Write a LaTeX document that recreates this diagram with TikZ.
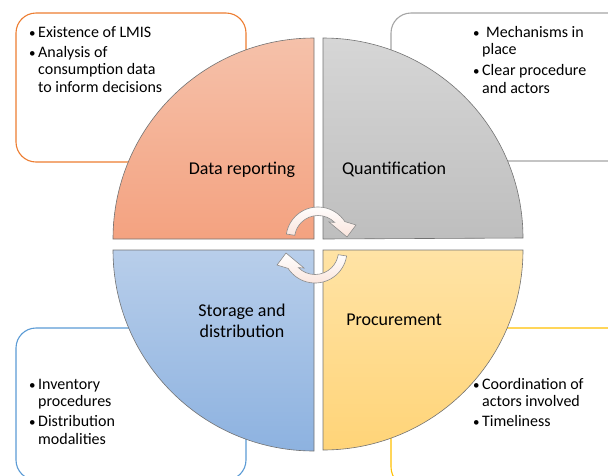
\documentclass[tikz,border=0pt]{standalone}
\usepackage{fontspec}
\setmainfont{Carlito}
\definecolor{boxorange}{RGB}{237,125,49}
\definecolor{boxgray}{RGB}{165,165,165}
\definecolor{boxblue}{RGB}{91,155,213}
\definecolor{boxgold}{RGB}{255,192,0}
\definecolor{drtop}{RGB}{245,193,170}
\definecolor{drbot}{RGB}{244,162,128}
\definecolor{qutop}{RGB}{214,214,214}
\definecolor{qubot}{RGB}{190,190,190}
\definecolor{sdtop}{RGB}{184,206,234}
\definecolor{sdbot}{RGB}{141,178,224}
\definecolor{prtop}{RGB}{255,227,165}
\definecolor{prbot}{RGB}{255,212,120}
\definecolor{arrowpink}{RGB}{250,228,220}
% small list bullet in a fixed-width box
\newcommand\listdot[1]{\makebox[#1][l]{\hspace{1pt}\fontsize{13}{13}\selectfont •}}
\begin{document}
\begin{tikzpicture}[x=1pt,y=-1pt,
  quad/.style={draw=black!55, line width=0.6pt},
  infobox/.style={rounded corners=20pt, line width=1.1pt, fill=white},
  qlabel/.style={font=\fontsize{18}{21}\selectfont, align=center, inner sep=0pt},
  bullets/.style={font=\fontsize{16}{17.5}\selectfont, anchor=base west, inner sep=0pt},
  cyc/.style={draw=black!45, line width=0.6pt, top color=white, bottom color=arrowpink},
  cyclearrow/.pic={
    \draw[cyc] (189:32) arc[start angle=189, end angle=327, radius=32]
      -- (38,-14) -- (29,-2) -- (11,-17) -- (315:23.5)
      arc[start angle=315, end angle=189, radius=23.5] -- cycle;
  }]
\useasboundingbox (0,0) rectangle (608,475);

% information boxes behind the wheel
\draw[infobox, draw=boxorange] (16,13) rectangle (246,162);
\draw[infobox, draw=boxgray] (391,13) rectangle (640,161);
\draw[infobox, draw=boxblue] (16,328) rectangle (246,480);
\draw[infobox, draw=boxgold] (391,328) rectangle (640,487);

% the four quarters of the wheel
\draw[quad, top color=drtop, bottom color=drbot]
  (314,239) -- (314,38) arc[start angle=270, end angle=180, radius=201] -- cycle;
\draw[quad, top color=qutop, bottom color=qubot]
  (323,239) -- (323,38) arc[start angle=270, end angle=360, radius=200] -- cycle;
\draw[quad, top color=sdtop, bottom color=sdbot]
  (314,250) -- (113,250) arc[start angle=180, end angle=90, radius=201] -- cycle;
\draw[quad, top color=prtop, bottom color=prbot]
  (323,250) -- (523,250) arc[start angle=0, end angle=90, radius=200] -- cycle;

% cycle arrows in the middle
\pic (arrA) at (318,239) {cyclearrow};
\pic[rotate=180] (arrB) at (315,251) {cyclearrow};

% quarter labels
\node[qlabel] (dr) at (242,170) {Data reporting};
\node[qlabel] (qu) at (394,169) {Quantification};
\node[qlabel] (sd) at (242,321) {Storage and\\distribution};
\node[qlabel] (pr) at (394,320) {Procurement};

% bullet lists
\node[bullets] (tl) at (28,37) {\begin{tabular}[t]{@{}l@{}l@{}}
  \listdot{10pt} & Existence of LMIS\\[2.5pt]
  \listdot{10pt} & Analysis of\\
   & consumption data\\
   & to inform decisions
\end{tabular}};
\node[bullets] (tr) at (472,37) {\begin{tabular}[t]{@{}l@{}l@{}}
  \listdot{10pt} & \hspace{4pt}Mechanisms in\\
   & place\\[3.5pt]
  \listdot{10pt} & Clear procedure\\
   & and actors
\end{tabular}};
\node[bullets] (bl) at (28,389) {\begin{tabular}[t]{@{}l@{}l@{}}
  \listdot{10pt} & Inventory\\
   & procedures\\[2.5pt]
  \listdot{10pt} & Distribution\\
   & modalities
\end{tabular}};
\node[bullets] (br) at (472,389) {\begin{tabular}[t]{@{}l@{}l@{}}
  \listdot{10pt} & Coordination of\\
   & actors involved\\[2.5pt]
  \listdot{10pt} & Timeliness
\end{tabular}};
\end{tikzpicture}
\end{document}
